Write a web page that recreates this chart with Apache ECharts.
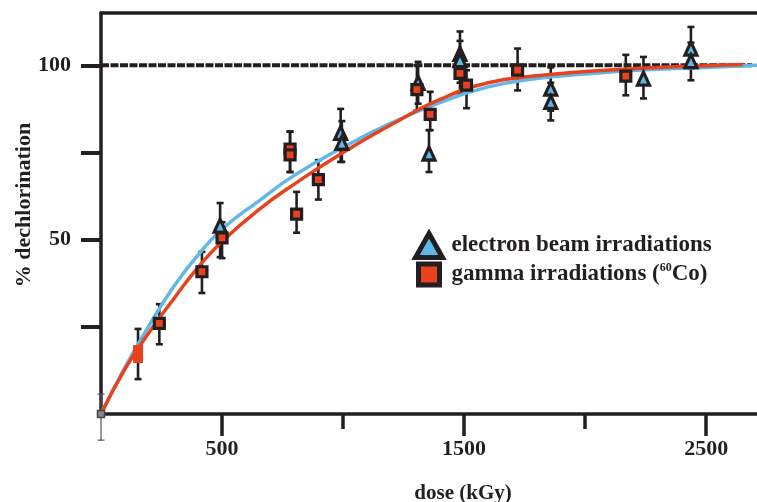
<!DOCTYPE html>
<html>
<head>
<meta charset="utf-8">
<script src="https://cdn.jsdelivr.net/npm/echarts@6/dist/echarts.min.js"></script>
<style>html,body{margin:0;padding:0;background:#fff}#c{width:757px;height:502px}</style>
</head>
<body>
<div id="c"></div>
<script>
// ---- data ----
// [dose kGy, % dechlorination, error low, error high]
const electronPoints = [
  [492, 54, 45, 60.5],
  [990, 80.6, 72.3, 87.5],
  [995, 77.8, 72.3, 84],
  [1310, 95, 89, 101],
  [1355, 74.7, 69.4, 81.4],
  [1483, 103.3, 97, 109.7],
  [1483, 101.5, 95, 107],
  [1858, 93.3, 87, 99.4],
  [1858, 89.5, 84.2, 95],
  [2241, 96.2, 90.5, 102.4],
  [2437, 104.8, 99, 111],
  [2437, 101.2, 95.7, 106.5]
];
const gammaPoints = [
  [0, 0, -7.5, 5.7],
  [153, 17.2, 10, 24.4],
  [241, 26, 20, 31.5],
  [417, 40.8, 34.7, 46.5],
  [500, 50.5, 44.7, 55],
  [781, 76, 69.4, 81],
  [781, 74.3, 69.4, 81],
  [808, 57.3, 52, 63.7],
  [898, 67.2, 61.5, 72.8],
  [1305, 93, 87, 100],
  [1360, 85.9, 81.4, 92.4],
  [1483, 97.7, 92, 103],
  [1510, 94.3, 87.7, 98.6],
  [1721, 98.6, 92.8, 104.8],
  [2168, 96.9, 91.4, 103]
];
const electronFit = [
  [0, 0], [100, 13.5], [200, 25.5], [300, 36.5], [400, 45.5], [500, 53],
  [650, 61], [800, 68.5], [1000, 76.5], [1200, 83.5], [1400, 89.3],
  [1600, 93.8], [1800, 96.2], [2000, 97.5], [2250, 98.7], [2500, 99.4], [2710, 100]
];
const gammaFit = [
  [0, 0], [100, 13], [200, 23.5], [300, 33], [400, 42], [500, 49.5],
  [650, 58.5], [800, 66], [1000, 75], [1200, 83], [1400, 90.2],
  [1600, 95], [1800, 97], [2000, 98.2], [2250, 99.2], [2500, 99.9], [2650, 100.2]
];
const completeLine = [[0, 100], [2690, 100]];
const xLabelTicks = [500, 1500, 2500];
const xMinorTicks = [1000, 2000];
const yTicks = [25, 50, 75, 100];
const yLabels = [50, 100];
const seriesNames = ['electron beam irradiations', 'gamma irradiations'];

// ---- chart ----
const INK = '#231f20';
const FONT = '"Liberation Serif", "Times New Roman", serif';
const BLUE = '#5fb8e8';
const RED = '#e8421c';

function errorBars(points) {
  return points.map(p => [p[0], p[2], p[3]]);
}
function renderErr(params, api) {
  const x = api.value(0);
  const lo = api.coord([x, api.value(1)]);
  const hi = api.coord([x, api.value(2)]);
  const cap = 3.5;
  const thin = api.value(1) < 0;
  const st = { stroke: thin ? '#555' : INK, lineWidth: thin ? 1.2 : 2.6 };
  return {
    type: 'group',
    children: [
      { type: 'line', shape: { x1: lo[0], y1: lo[1], x2: hi[0], y2: hi[1] }, style: st },
      { type: 'line', shape: { x1: lo[0] - cap, y1: lo[1], x2: lo[0] + cap, y2: lo[1] }, style: st },
      { type: 'line', shape: { x1: hi[0] - cap, y1: hi[1], x2: hi[0] + cap, y2: hi[1] }, style: st }
    ]
  };
}

function gammaItem(p, i) {
  if (i === 0) {
    return { value: [p[0], p[1]], symbolSize: 7, itemStyle: { color: '#888', borderColor: '#444', borderWidth: 1.5 } };
  }
  if (i === 1) {
    return { value: [p[0], p[1]], symbolSize: [10, 18], itemStyle: { color: RED, borderWidth: 0 } };
  }
  return [p[0], p[1]];
}

const chart = echarts.init(document.getElementById('c'), null, { renderer: 'canvas' });
const XMAX = 2710, YMAX = 115;
const baseX = { type: 'value', min: 0, max: XMAX, splitLine: { show: false } };
const numFmt = v => String(v);

chart.setOption({
  animation: false,
  backgroundColor: '#fff',
  grid: { left: 101, top: 13, right: 0, bottom: 88, containLabel: false, outerBoundsMode: 'none' },
  legend: {
    left: 408, top: 226, orient: 'vertical',
    itemWidth: 27, itemHeight: 24, itemGap: 0,
    textStyle: { fontFamily: FONT, fontWeight: 'bold', fontSize: 23, lineHeight: 26, color: INK, padding: [0, 0, 0, 4],
      rich: { sup: { fontFamily: FONT, fontWeight: 'bold', fontSize: 12, lineHeight: 26, color: INK, verticalAlign: 'top', padding: [0, 0, 10, 0] } } },
    formatter: function (name) {
      return name === seriesNames[1] ? name + ' ({sup|60}Co)' : name;
    },
    data: [
      { name: seriesNames[0], icon: 'triangle', itemStyle: { color: BLUE, borderColor: INK, borderWidth: 5 } },
      { name: seriesNames[1], icon: 'path://M0,0M24,24M1.5,1.5L22.5,1.5L22.5,22.5L1.5,22.5Z', itemStyle: { color: RED, borderColor: INK, borderWidth: 5 } }
    ]
  },
  xAxis: [
    Object.assign({}, baseX, {
      position: 'bottom',
      name: 'dose (kGy)', nameLocation: 'middle', nameGap: 69,
      nameTextStyle: { fontFamily: FONT, fontWeight: 'bold', fontSize: 21, color: INK, padding: [0, 0, 0, 68] },
      axisLine: { show: true, onZero: false, lineStyle: { color: INK, width: 3.5 } },
      axisTick: { show: true, inside: false, length: 22, customValues: xLabelTicks, lineStyle: { color: INK, width: 3.5 } },
      axisLabel: { show: true, margin: 24, customValues: xLabelTicks, formatter: numFmt, fontFamily: FONT, fontWeight: 'bold', fontSize: 22, color: INK }
    }),
    Object.assign({}, baseX, {
      position: 'bottom',
      axisLine: { show: false },
      axisTick: { show: true, length: 15, customValues: xMinorTicks, lineStyle: { color: INK, width: 3.5 } },
      axisLabel: { show: false }
    }),
    Object.assign({}, baseX, {
      position: 'top',
      axisLine: { show: true, onZero: false, lineStyle: { color: INK, width: 3.5 } },
      axisTick: { show: false },
      axisLabel: { show: false }
    })
  ],
  yAxis: {
    type: 'value', min: 0, max: YMAX,
    splitLine: { show: false },
    name: '% dechlorination', nameLocation: 'middle', nameGap: 66, nameRotate: 90, nameMoveOverlap: false,
    nameTextStyle: { fontFamily: FONT, fontWeight: 'bold', fontSize: 22, color: INK, padding: [0, 0, 0, 17] },
    axisLine: { show: true, onZero: false, lineStyle: { color: INK, width: 3.5 } },
    axisTick: { show: true, length: 20, customValues: yTicks, lineStyle: { color: INK, width: 4 } },
    axisLabel: { show: true, margin: 30, customValues: yLabels, formatter: numFmt, fontFamily: FONT, fontWeight: 'bold', fontSize: 22, color: INK }
  },
  series: [
    {
      type: 'line', name: 'complete', data: completeLine, symbol: 'none', silent: true, z: 2,
      lineStyle: { color: INK, width: 4, type: [8, 1.5] }
    },
    {
      type: 'custom', name: 'electron-err', data: errorBars(electronPoints), renderItem: renderErr, z: 3, silent: true
    },
    {
      type: 'custom', name: 'gamma-err', data: errorBars(gammaPoints), renderItem: renderErr, z: 3, silent: true
    },
    {
      type: 'line', name: 'electron-fit', data: electronFit, smooth: 0.5, symbol: 'none', z: 4,
      lineStyle: { color: BLUE, width: 3.5 }
    },
    {
      type: 'line', name: 'gamma-fit', data: gammaFit, smooth: 0.5, symbol: 'none', z: 4,
      lineStyle: { color: RED, width: 3.5 }
    },
    {
      type: 'scatter', name: seriesNames[0], z: 5,
      data: electronPoints.map(p => [p[0], p[1]]),
      symbol: 'triangle', symbolSize: [12, 13],
      itemStyle: { color: BLUE, borderColor: INK, borderWidth: 3.2, opacity: 1 }
    },
    {
      type: 'scatter', name: seriesNames[1], z: 5,
      data: gammaPoints.map(gammaItem),
      symbol: 'rect', symbolSize: 10,
      itemStyle: { color: RED, borderColor: INK, borderWidth: 3.2, opacity: 1 }
    }
  ]
});
</script>
</body>
</html>
